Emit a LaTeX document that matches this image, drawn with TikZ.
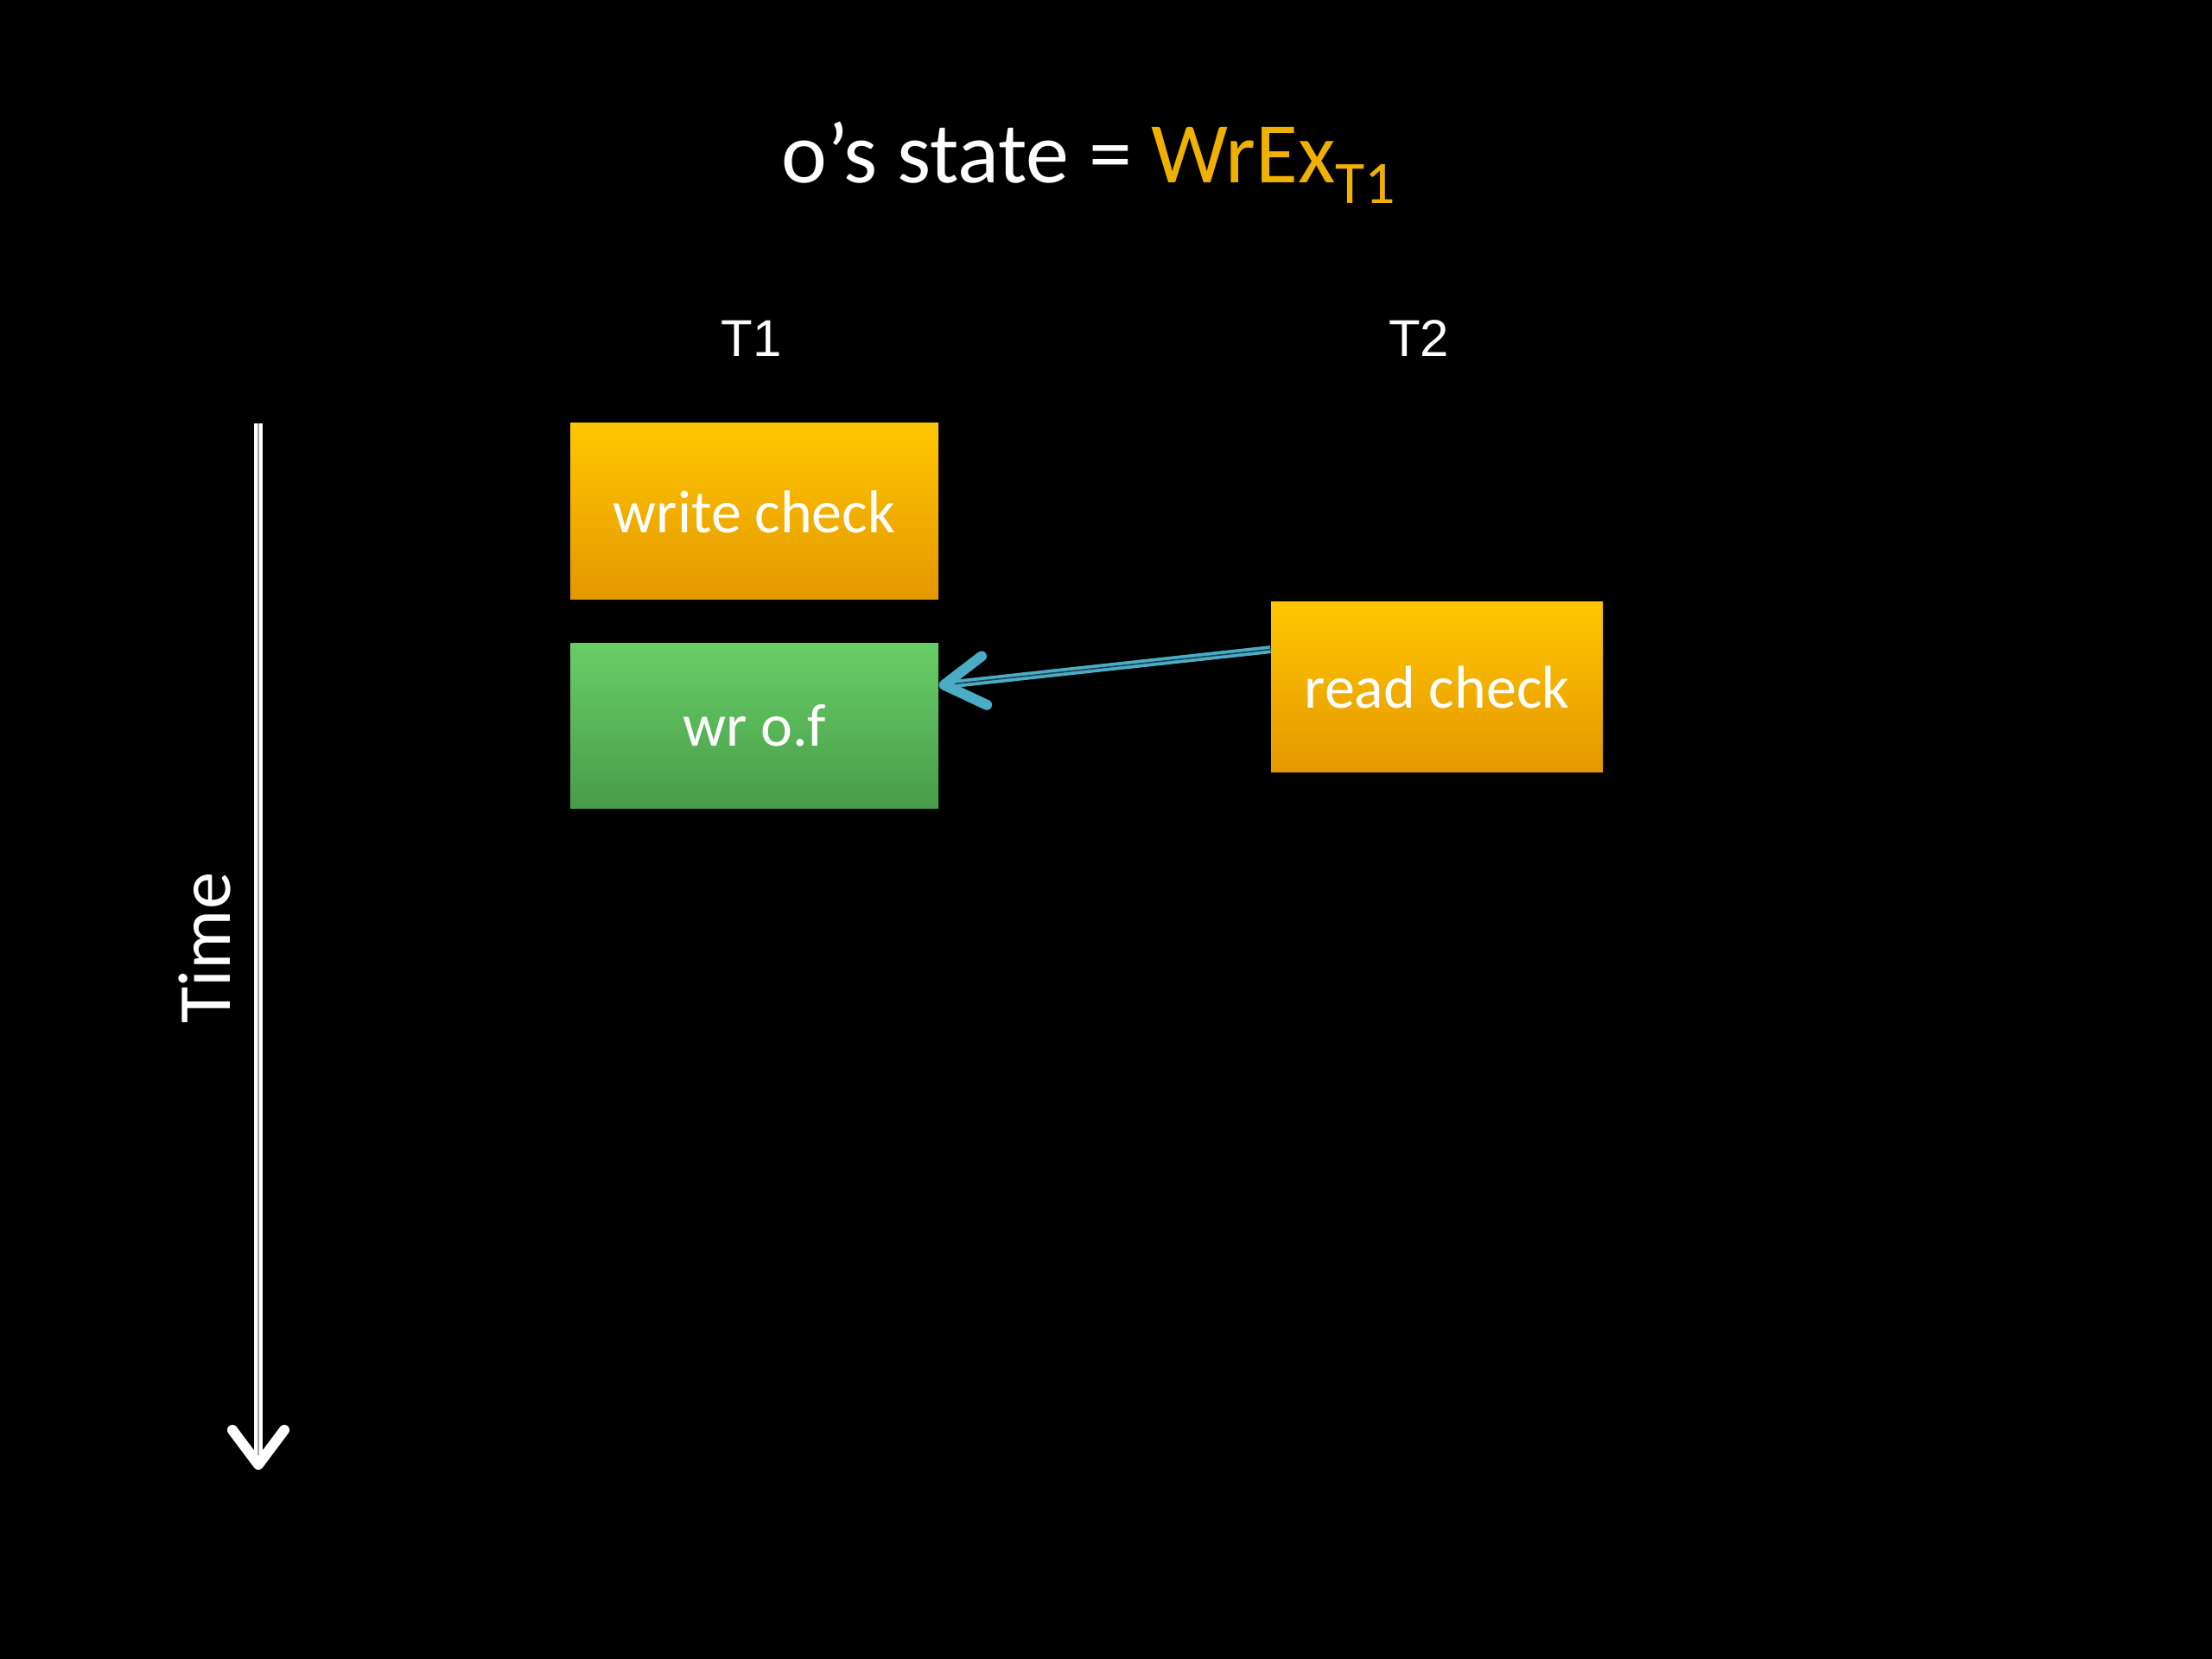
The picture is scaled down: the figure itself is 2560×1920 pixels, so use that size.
\documentclass[tikz,border=0pt]{standalone}
\usepackage{fontspec}
\setmainfont{Carlito}
\newfontfamily\arialfont{Liberation Sans}
\usetikzlibrary{arrows.meta}
\definecolor{chkTop}{RGB}{255,198,0}
\definecolor{chkBot}{RGB}{228,152,0}
\definecolor{wrTop}{RGB}{104,206,104}
\definecolor{wrBot}{RGB}{72,156,72}
\definecolor{stateYellow}{RGB}{240,176,0}
\definecolor{linkBlue}{RGB}{75,172,198}
\begin{document}
\begin{tikzpicture}[x=0.3pt,y=0.3pt,yscale=-1,xscale=1,
    checkbox/.style={top color=chkTop, bottom color=chkBot, text=white, inner sep=0pt, font=\fontsize{21}{25}\selectfont},
    writebox/.style={top color=wrTop, bottom color=wrBot, text=white, inner sep=0pt, font=\fontsize{21}{25}\selectfont},
    thread/.style={text=white, inner sep=0pt, font=\arialfont\fontsize{18}{22}\selectfont}]
    %set diagram to the slide size
    \fill [black] (0,0) rectangle (2560,1920);
    \useasboundingbox (0,0) rectangle (2560,1920);

    % Text Node
    \node (state) [anchor=base, text=white, inner sep=0pt, font=\fontsize{30}{36}\selectfont] at (1260,212) {o’s state = \textcolor{stateYellow}{WrEx\raisebox{-7pt}{\fontsize{21}{21}\selectfont T1}}};
    % Text Node
    \node (t1) [thread] at (870,392) {T1};
    % Text Node
    \node (t2) [thread] at (1642,392) {T2};

    %Shape: Rectangle
    \node (wcheck) [checkbox, minimum width=127.8pt, minimum height=61.2pt] at (873,592) {write check};
    %Shape: Rectangle
    \node (wrof) [writebox, minimum width=127.8pt, minimum height=57.3pt] at (873,840) {wr o.f};
    %Shape: Rectangle
    \node (rcheck) [checkbox, minimum width=115.2pt, minimum height=59.1pt] at (1663,795) {read check};

    %Straight Lines
    \draw [draw=linkBlue, double=linkBlue!40!black, line width=1.1pt, double distance=0.5pt, -{Straight Barb[round, length=14pt, width=17pt, line width=3.6pt]}] ([yshift=-13pt]rcheck.west) -- ([yshift=-14pt]wrof.east);

    % Time axis
    \coordinate (tstart) at (299,490);
    \coordinate (tend) at (299,1701);
    \draw [draw=white, double=gray!70, line width=1.1pt, double distance=0.7pt, -{Straight Barb[round, length=12pt, width=18pt, line width=3.6pt]}] (tstart) -- (tend);
    % Text Node
    \node (time) [rotate=90, text=white, inner sep=0pt, font=\fontsize{26}{30}\selectfont] at (237,1097) {Time};
\end{tikzpicture}
\end{document}
